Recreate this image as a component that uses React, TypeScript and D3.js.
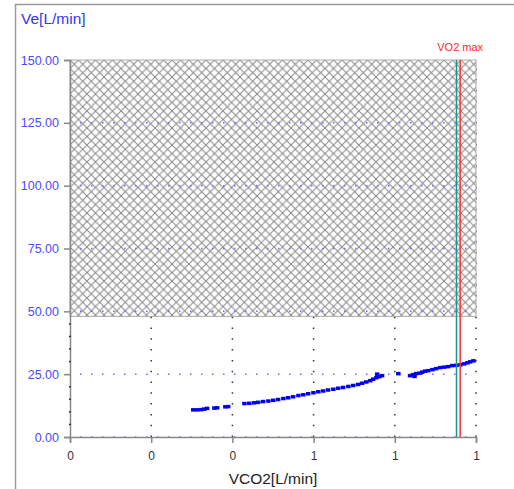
import React, { useEffect, useRef } from "react";
import * as d3 from "d3";

// VCO2 [L/min] vs Ve [L/min]
const vco2 = [
  0.303, 0.313, 0.323, 0.33, 0.337, 0.355, 0.362, 0.382, 0.389,
  0.429, 0.441, 0.453, 0.463, 0.475, 0.488, 0.5, 0.512, 0.525, 0.537, 0.549,
  0.562, 0.574, 0.586, 0.599, 0.611, 0.623, 0.635, 0.648, 0.66, 0.672, 0.685,
  0.697, 0.709, 0.719, 0.729, 0.739, 0.746, 0.754, 0.756, 0.761, 0.768,
  0.808,
  0.837, 0.845, 0.848, 0.852, 0.86, 0.867, 0.874, 0.882, 0.892, 0.901, 0.911,
  0.921, 0.931, 0.941, 0.951, 0.961, 0.97, 0.978, 0.985, 0.993,
];
const ve = [
  10.9, 10.9, 11.0, 11.2, 11.5, 11.6, 11.7, 12.1, 12.2,
  13.4, 13.5, 13.7, 13.9, 14.2, 14.4, 14.7, 15.0, 15.4, 15.7, 16.1,
  16.6, 16.9, 17.3, 17.7, 18.1, 18.4, 18.8, 19.1, 19.5, 19.8, 20.2,
  20.6, 21.0, 21.5, 22.0, 22.5, 23.1, 23.7, 25.1, 24.1, 24.5,
  25.3,
  24.5, 24.9, 24.2, 25.3, 25.5, 25.9, 26.3, 26.5, 26.9, 27.3, 27.7,
  27.9, 28.1, 28.5, 28.6, 28.8, 29.2, 29.6, 30.0, 30.4,
];
const yTicks = [0, 25, 50, 75, 100, 125, 150];
const xTicks = [0, 0.2, 0.4, 0.6, 0.8, 1.0];
const vo2MaxA = 0.952;
const vo2MaxB = 0.961;
const hatchFrom = 48;

const App = () => {
  const chartRef = useRef(null);

  useEffect(() => {
    drawChart();
  }, []);

  const drawChart = () => {
    const width = 514;
    const height = 489;
    const margin = { top: 60, right: 38, bottom: 52, left: 70 };
    const w = width - margin.left - margin.right;
    const h = height - margin.top - margin.bottom;
    const font = "Liberation Sans, Arial, sans-serif";

    const root = d3.select(chartRef.current);
    root.selectAll("*").remove();
    root.attr("width", width).attr("height", height);

    // crosshatch pattern
    const pat = root
      .append("defs")
      .append("pattern")
      .attr("id", "xhatch")
      .attr("patternUnits", "userSpaceOnUse")
      .attr("width", 8.5)
      .attr("height", 8.5);
    pat.append("rect").attr("width", 8.5).attr("height", 8.5).attr("fill", "#fff");
    pat
      .append("path")
      .attr("d", "M0,0L8.5,8.5M8.5,0L0,8.5")
      .attr("stroke", "#858585")
      .attr("stroke-width", 1);

    // outer frame
    root
      .append("rect")
      .attr("x", 15.5)
      .attr("y", 4.5)
      .attr("width", 600)
      .attr("height", 600)
      .attr("fill", "none")
      .attr("stroke", "#9a9a9a")
      .attr("stroke-width", 1.5);

    root
      .append("text")
      .attr("x", 21)
      .attr("y", 24)
      .attr("fill", "#3535f5")
      .attr("font-family", font)
      .attr("font-size", 15.5)
      .text("Ve[L/min]");

    const svg = root
      .append("g")
      .attr("transform", `translate(${margin.left},${margin.top})`);

    const x = d3.scaleLinear().domain([0, 1]).range([0, w]);
    const y = d3.scaleLinear().domain([0, 150]).range([h, 0]);

    // vertical dotted grid
    svg
      .append("g")
      .selectAll("line")
      .data(xTicks.slice(1))
      .join("line")
      .attr("x1", (d) => x(d))
      .attr("x2", (d) => x(d))
      .attr("y1", h)
      .attr("y2", 0)
      .attr("stroke", "#333")
      .attr("stroke-width", 1.5)
      .attr("stroke-dasharray", "1.5,9.3");

    // hatched area
    svg
      .append("rect")
      .attr("x", 0)
      .attr("y", y(150))
      .attr("width", x(1))
      .attr("height", y(hatchFrom) - y(150))
      .attr("fill", "url(#xhatch)")
      .attr("stroke", "#aaa")
      .attr("stroke-width", 1);

    // horizontal dotted grid
    svg
      .append("g")
      .selectAll("line")
      .data(yTicks.slice(0, -1))
      .join("line")
      .attr("x1", 10)
      .attr("x2", w)
      .attr("y1", (d) => y(d))
      .attr("y2", (d) => y(d))
      .attr("stroke", "#6a6aff")
      .attr("stroke-width", 1.5)
      .attr("stroke-dasharray", "1.5,9.5");

    // points
    svg
      .append("g")
      .selectAll("rect")
      .data(vco2.map((v, i) => [v, ve[i]]))
      .join("rect")
      .attr("x", (d) => x(d[0]) - 2)
      .attr("y", (d) => y(d[1]) - 1.5)
      .attr("width", 4.5)
      .attr("height", 3.5)
      .attr("fill", "#0000ee");

    // VO2 max markers
    svg
      .append("line")
      .attr("x1", x(vo2MaxA))
      .attr("x2", x(vo2MaxA))
      .attr("y1", y(150))
      .attr("y2", h)
      .attr("stroke", "#16958a")
      .attr("stroke-width", 1.5);
    svg
      .append("line")
      .attr("x1", x(vo2MaxB))
      .attr("x2", x(vo2MaxB))
      .attr("y1", y(150))
      .attr("y2", h)
      .attr("stroke", "#ff3030")
      .attr("stroke-width", 1.5);
    svg
      .append("text")
      .attr("x", x(vo2MaxB))
      .attr("y", -9)
      .attr("text-anchor", "middle")
      .attr("fill", "#ff2a2a")
      .attr("font-family", font)
      .attr("font-size", 11)
      .text("VO2 max");

    // y axis
    const yAxis = svg
      .append("g")
      .call(
        d3
          .axisLeft(y)
          .tickValues(yTicks)
          .tickSize(6)
          .tickPadding(5)
          .tickFormat(d3.format(".2f"))
      );
    yAxis.select(".domain").attr("stroke", "#888").attr("stroke-width", 1.5);
    yAxis.selectAll(".tick line").attr("stroke", "#888").attr("stroke-width", 1.5);
    yAxis
      .selectAll("text")
      .attr("fill", "#4a4aff")
      .attr("font-family", font)
      .attr("font-size", 12.5);

    // minor y ticks
    svg
      .append("g")
      .selectAll("rect")
      .data(d3.range(5, 150, 5).filter((d) => d % 25 !== 0 && d < hatchFrom))
      .join("rect")
      .attr("x", -1)
      .attr("y", (d) => y(d) - 0.75)
      .attr("width", 2)
      .attr("height", 1.5)
      .attr("fill", "#333");

    // x axis
    const xAxis = svg
      .append("g")
      .attr("transform", `translate(0,${h})`)
      .call(
        d3
          .axisBottom(x)
          .tickValues(xTicks)
          .tickSize(6)
          .tickPadding(8)
          .tickFormat(d3.format(".0f"))
      );
    xAxis.select(".domain").attr("stroke", "#888").attr("stroke-width", 1.5);
    xAxis.selectAll(".tick line").attr("stroke", "#888").attr("stroke-width", 1.5);
    xAxis
      .selectAll("text")
      .attr("fill", "#333")
      .attr("font-family", font)
      .attr("font-size", 12);

    svg
      .append("text")
      .attr("x", w / 2)
      .attr("y", h + 47)
      .attr("text-anchor", "middle")
      .attr("fill", "#222")
      .attr("font-family", font)
      .attr("font-size", 15.5)
      .text("VCO2[L/min]");
  };

  return (
    <svg
      ref={chartRef}
      style={{ position: "absolute", left: 0, top: 0, background: "#fff" }}
    ></svg>
  );
};

export default App;
